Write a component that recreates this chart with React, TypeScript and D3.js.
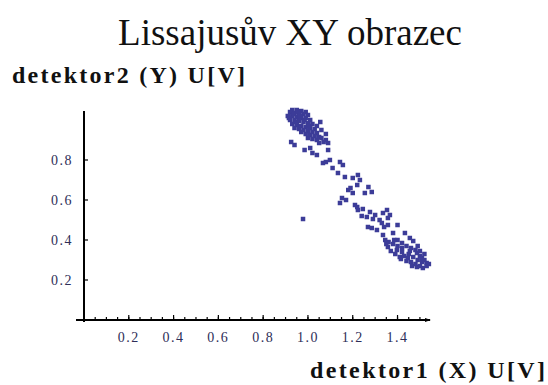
import * as d3 from "d3";

const TITLE = "Lissajusův XY obrazec";
const X_LABEL = "detektor1 (X) U[V]";
const Y_LABEL = "detektor2 (Y) U[V]";

const X_TICKS = [0.2, 0.4, 0.6, 0.8, 1.0, 1.2, 1.4];
const Y_TICKS = [0.2, 0.4, 0.6, 0.8];

// detector1 (x), detector2 (y) samples
const TOP_CLUSTER: [number, number][] = [
  [0.93, 1.05], [0.95, 1.05], [0.97, 1.045], [0.99, 1.04], [0.92, 1.04], [0.94, 1.035],
  [0.96, 1.03], [0.98, 1.03], [1.0, 1.025], [0.91, 1.02], [0.93, 1.02], [0.95, 1.015],
  [0.97, 1.01], [0.99, 1.01], [1.01, 1.0], [0.92, 1.0], [0.94, 1.0], [0.96, 0.995],
  [0.98, 0.99], [1.0, 0.985], [1.02, 0.98], [0.93, 0.98], [0.95, 0.975], [0.97, 0.97],
  [0.99, 0.965], [1.01, 0.96], [1.03, 0.955], [0.94, 0.96], [0.96, 0.955], [0.98, 0.95],
  [1.0, 0.945], [1.02, 0.94], [1.04, 0.935], [0.97, 0.94], [0.99, 0.93], [1.01, 0.925],
  [1.03, 0.92], [1.05, 0.915], [1.0, 0.91], [1.02, 0.905], [1.04, 0.9], [1.06, 0.91],
  [1.08, 0.9], [1.09, 0.885], [1.07, 0.89], [1.05, 0.885], [1.055, 0.99], [1.04, 0.97],
  [1.06, 0.95], [1.08, 0.93], [0.925, 0.89], [0.94, 0.875], [0.985, 0.85], [1.01, 0.86],
  [1.02, 0.835], [1.04, 0.825], [1.09, 0.85], [0.955, 1.04], [0.935, 1.03], [0.965, 1.02],
  [0.985, 1.0], [1.005, 0.97], [0.915, 1.01], [0.945, 0.99],
];

const MID_STREAK: [number, number][] = [
  [1.067, 0.785], [1.098, 0.8], [1.143, 0.79], [1.156, 0.775], [1.08, 0.79], [1.134, 0.735],
  [1.165, 0.715], [1.223, 0.725], [1.232, 0.7], [1.18, 0.65], [1.2, 0.635], [1.22, 0.675],
  [1.27, 0.665], [1.285, 0.64], [1.254, 0.635], [1.152, 0.61], [1.143, 0.585], [1.21, 0.575],
  [1.223, 0.55], [1.277, 0.54], [1.3, 0.525], [1.263, 0.515], [1.335, 0.535], [1.32, 0.5],
  [1.357, 0.51], [1.268, 0.465], [1.22, 0.565], [1.245, 0.555], [1.353, 0.55], [1.366, 0.525],
  [1.285, 0.46], [1.308, 0.45], [1.33, 0.485], [1.357, 0.475], [1.4, 0.475], [1.19, 0.66],
  [1.17, 0.6], [1.24, 0.52], [1.29, 0.505], [1.34, 0.465], [1.11, 0.76], [1.2, 0.71],
];

const OUTLIER: [number, number][] = [[0.978, 0.505]];

const LOW_CLUSTER: [number, number][] = [
  [1.335, 0.425], [1.38, 0.435], [1.433, 0.435], [1.455, 0.41], [1.357, 0.365], [1.397, 0.35],
  [1.41, 0.315], [1.446, 0.31], [1.487, 0.335], [1.509, 0.31], [1.53, 0.285], [1.487, 0.265],
  [1.465, 0.27], [1.513, 0.26], [1.36, 0.39], [1.38, 0.38], [1.4, 0.4], [1.42, 0.385],
  [1.44, 0.37], [1.46, 0.36], [1.48, 0.35], [1.37, 0.345], [1.39, 0.33], [1.42, 0.34],
  [1.43, 0.32], [1.45, 0.33], [1.47, 0.315], [1.49, 0.3], [1.51, 0.29], [1.52, 0.3],
  [1.5, 0.32], [1.46, 0.29], [1.48, 0.28], [1.5, 0.27], [1.53, 0.27], [1.42, 0.36],
  [1.4, 0.37], [1.385, 0.4], [1.345, 0.4], [1.35, 0.38], [1.47, 0.395], [1.49, 0.37],
  [1.52, 0.33], [1.5, 0.345], [1.44, 0.295], [1.455, 0.345], [1.415, 0.305], [1.54, 0.28],
];

const POINTS = [...TOP_CLUSTER, ...MID_STREAK, ...OUTLIER, ...LOW_CLUSTER];

export default function App() {
  const W = 548;
  const H = 385;
  const x = d3.scaleLinear().domain([0, 1.545]).range([84, 430]);
  const y = d3.scaleLinear().domain([0, 1.045]).range([320, 111]);
  const x0 = x(0);
  const y0 = y(0);
  const minor = x.ticks(30).filter((t) => t > 0);
  const serif = "'Liberation Serif', 'Times New Roman', serif";
  const tickColor = "#2e2e58";
  const dot = "#3c3c98";

  return (
    <div style={{ position: "fixed", left: 0, top: 0 }}>
      <svg width={W} height={H} style={{ display: "block", background: "#fff" }}>
        <text x={290} y={45} textAnchor="middle" fontFamily={serif} fontSize={37} fill="#111">
          {TITLE}
        </text>
        <text
          x={12}
          y={83}
          fontFamily={serif}
          fontSize={24}
          fontWeight="bold"
          fill="#111"
          textLength={233}
          lengthAdjust="spacing"
        >
          {Y_LABEL}
        </text>
        <text
          x={310}
          y={378}
          fontFamily={serif}
          fontSize={24}
          fontWeight="bold"
          fill="#111"
          textLength={235}
          lengthAdjust="spacing"
        >
          {X_LABEL}
        </text>

        {/* axes */}
        <line x1={x0} x2={x0} y1={y(1.045)} y2={y0 + 2} stroke="#000" strokeWidth={2} />
        <line x1={x0 - 8} x2={x(1.545)} y1={y0} y2={y0} stroke="#000" strokeWidth={2} />
        <path
          d={`M${x(1.545) - 5},${y0 - 2}L${x(1.545) + 1},${y0}L${x(1.545) - 5},${y0 + 2}Z`}
          fill="#000"
        />

        {minor.map((t) => (
          <line
            key={`m${t}`}
            x1={x(t)}
            x2={x(t)}
            y1={y0}
            y2={y0 - 3}
            stroke="#000"
            strokeWidth={1.2}
          />
        ))}
        {X_TICKS.map((t) => (
          <g key={`x${t}`}>
            <line x1={x(t)} x2={x(t)} y1={y0} y2={y0 - 5} stroke="#000" strokeWidth={1.2} />
            <text
              x={x(t)}
              y={y0 + 22}
              textAnchor="middle"
              fontFamily={serif}
              fontSize={14}
              letterSpacing={1.5}
              fill={tickColor}
            >
              {d3.format(".1f")(t)}
            </text>
          </g>
        ))}
        {Y_TICKS.map((t) => (
          <g key={`y${t}`}>
            <line x1={x0} x2={x0 + 4} y1={y(t)} y2={y(t)} stroke="#000" strokeWidth={1.2} />
            <text
              x={x0 - 11}
              y={y(t) + 5}
              textAnchor="end"
              fontFamily={serif}
              fontSize={14}
              letterSpacing={1.5}
              fill={tickColor}
            >
              {d3.format(".1f")(t)}
            </text>
          </g>
        ))}

        {POINTS.map(([px, py], i) => (
          <rect key={i} x={x(px) - 2.25} y={y(py) - 2.25} width={4.5} height={4.5} fill={dot} />
        ))}
      </svg>
    </div>
  );
}
